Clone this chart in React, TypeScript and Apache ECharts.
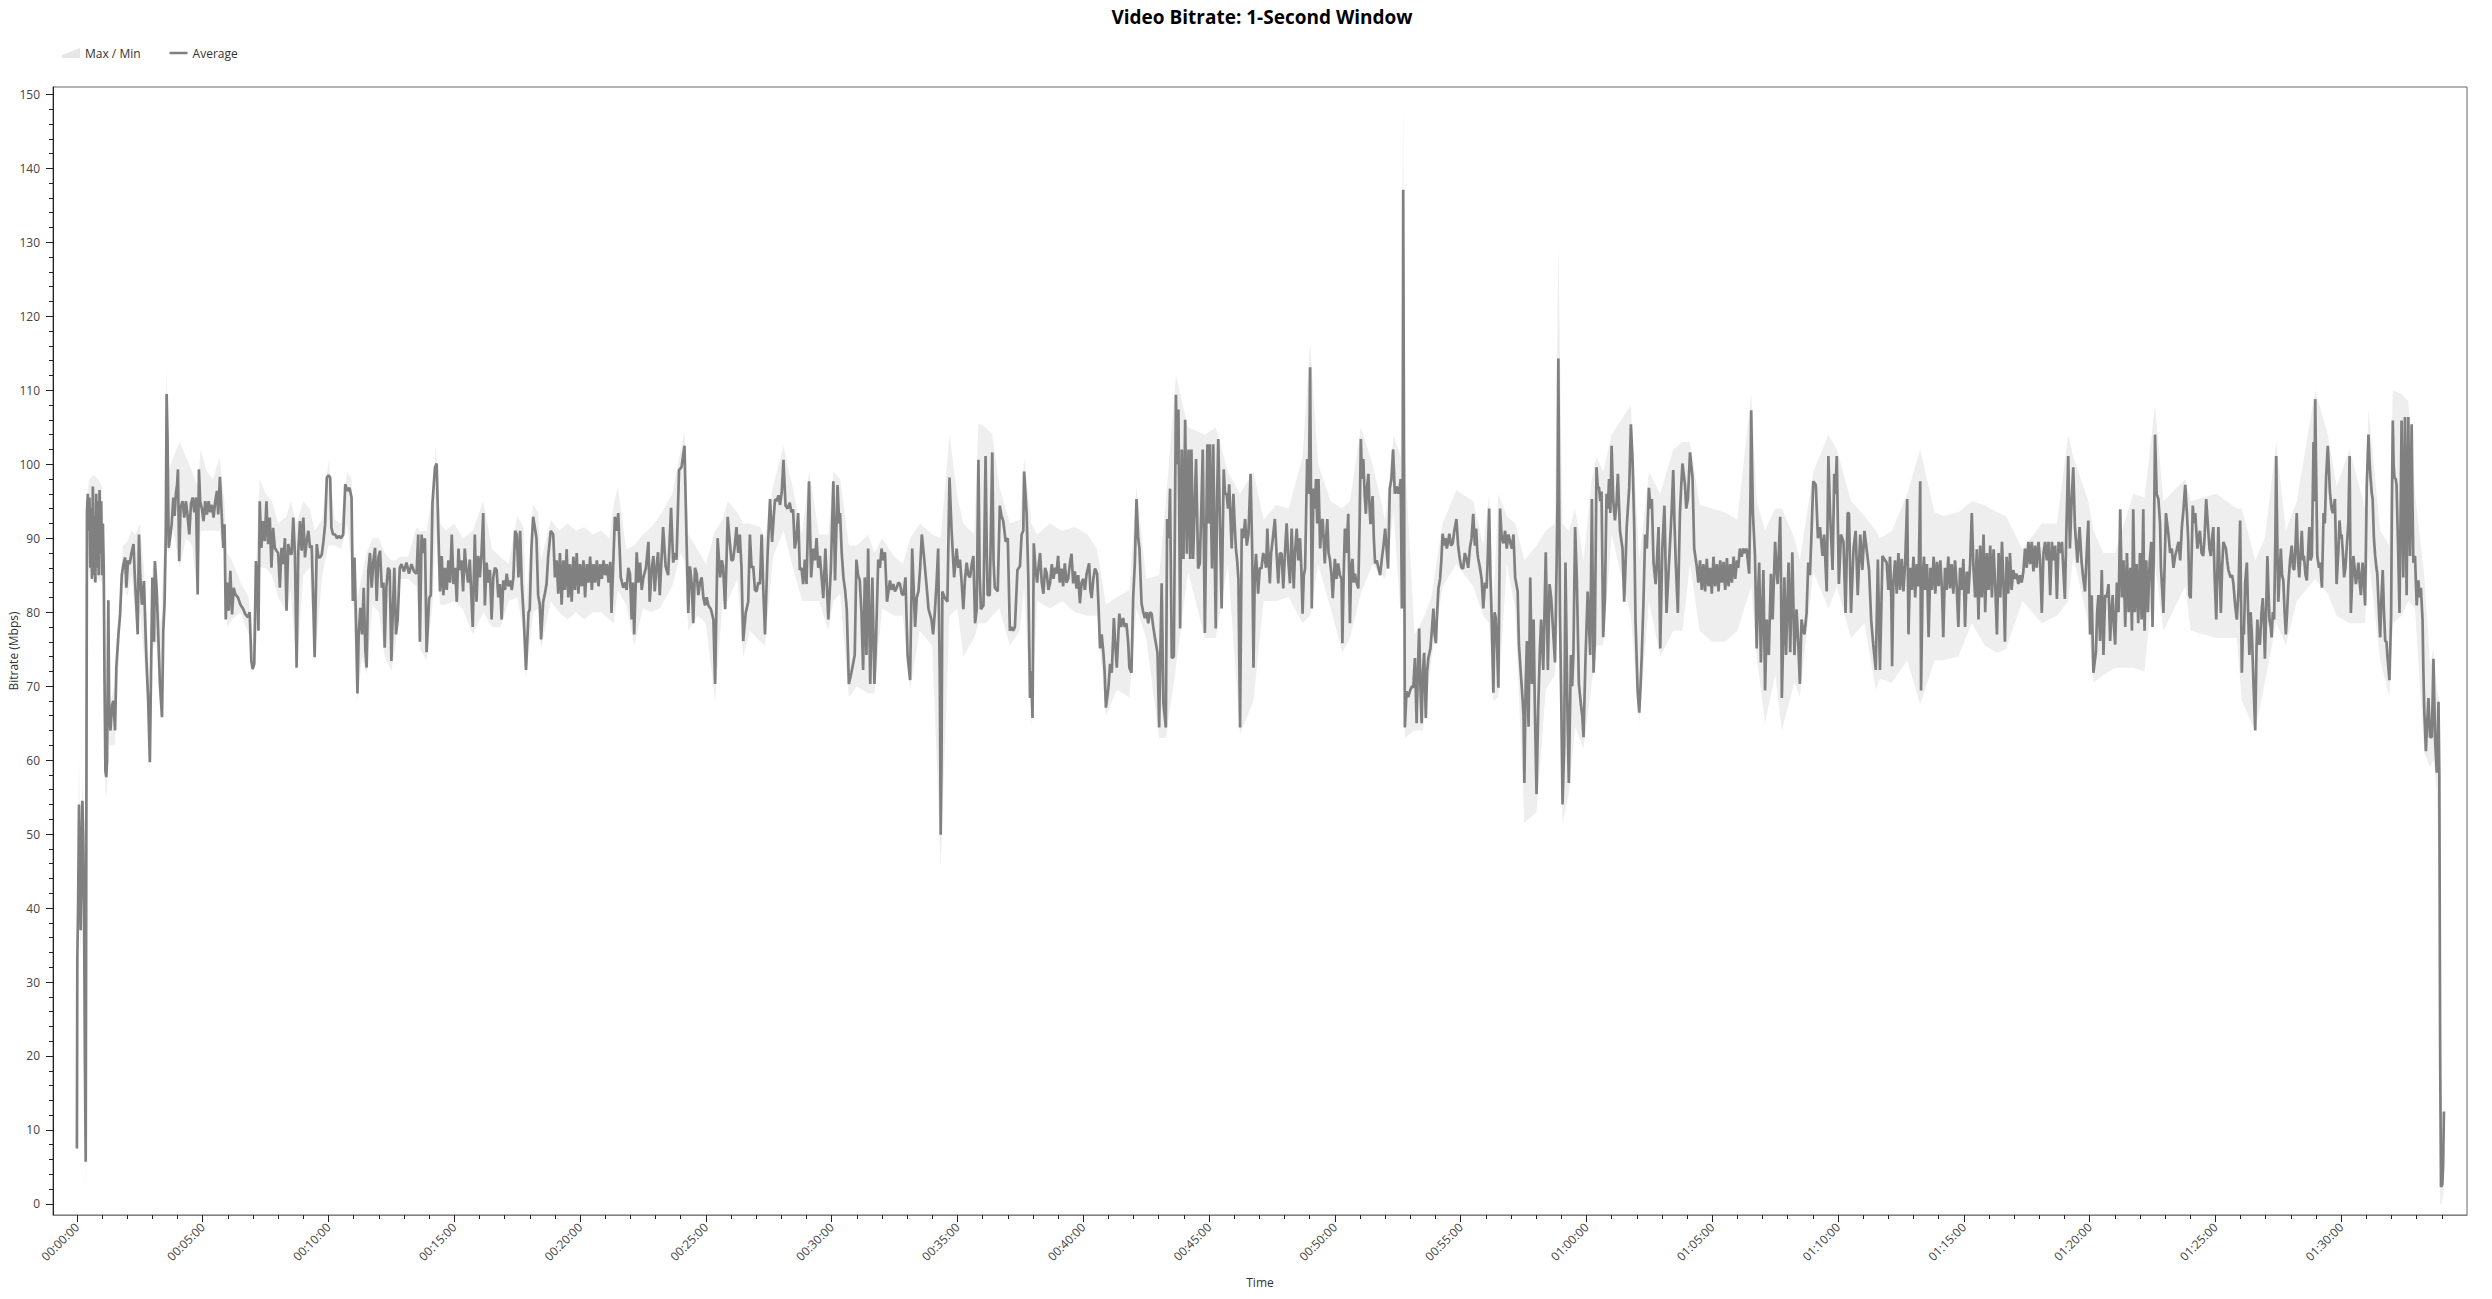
import React, { useEffect, useRef } from 'react';
import * as echarts from 'echarts';

// [seconds, Mbps]
const averageBitrate: number[][] = [
[0,7.5],[1,33],[2,37],[3,41],[5,54],[7,46],[9,37],[11,45],[13,54.5],[15,50],[17,40],[19,20],[21,5.7],[22,35],[24,93.5],
[26,96],[28,91],[30,95.5],[32,86],[34,94],[36,84.5],[38,97],[40,85],[42,93],[44,84],[46,96],[48,86],[50,95],[52,85],[54,96.5],[56,88],[58,95],[60,85],[62,92],[64,86],
[66,70],[68,58.5],[70,57.7],[72,60],[75,81.6],[77,66],[80,64],[84,67.5],[87,68],[91,64],[94,72.5],[99,77],[103,79.7],[107,85],[111,86.5],[115,87.4],[118,83.3],[122,87],[126,86.5],[130,88],[135,89.2],[138,85],[142,80.6],[145,77],[148,90.5],[151,85],[155,81],[160,84.2],[165,74.8],[170,68],[174,59.7],[178,77],[180,84.7],[184,76],[186,86.9],[190,83.3],[194,77],[198,70.3],[203,65.8],[206,77.5],[209,81],[212,90.5],[214,109.5],[216,104],[219,88.7],[222,90],[226,91.9],[230,95.5],[233,93],[236,96],[239,97.3],[241,99.3],[244,86.9],[247,94.1],[252,95],[256,92.8],[260,95],[264,93],[268,90.5],[272,94.6],[276,95.5],[280,93.5],[284,95.5],[288,82.4],[291,99.3],[294,95],[298,94],[302,92.3],[306,95],[310,93.2],[314,95],[318,93.5],[322,94.5],[326,92.8],[330,95],[334,96.4],[337,93.2],[341,98.3],[345,93.7],[349,88.7],[352,91.9],[355,79],[358,84],[362,80.2],[366,85.6],[370,79.7],[374,83.3],[378,82.4],[384,82],[390,81],[396,80.5],[402,79.7],[408,79.3],[412,80],[416,73.4],[419,72.3],[423,73],[427,86.9],[430,85.1],[433,77.5],[436,95],[440,88.7],[444,92.3],[448,89.6],[452,95],[456,89.2],[460,92.8],[464,86],[468,91.4],[472,88.7],[476,88.3],[480,88],[484,83.3],[488,88.7],[492,86.5],[496,90],[500,80.2],[504,89.2],[508,88],[512,87.8],[516,92.8],[520,87.8],[524,72.5],[528,88.3],[532,92.3],[536,88.3],[540,92.8],[544,87.4],[548,89.6],[552,91],[556,88.7],[560,89],[564,80.6],[567,73.9],[572,89.2],[576,87.4],[580,87.4],[584,87.8],[588,89.6],[592,91.9],[596,98.2],[600,98.5],[604,98.2],[607,91.4],[611,90.5],[616,90.5],[620,90],[625,90.3],[630,90],[635,90.5],[640,97.3],[645,96.4],[650,96.8],[655,95.5],[658,81.5],[662,87.4],[665,80.2],[669,69],[672,77],[676,80.6],[680,77],[684,83.3],[688,74.8],[691,72.5],[695,85.6],[699,88],[703,83.3],[707,86.9],[711,88.7],[715,81.5],[719,87.4],[723,88.3],[727,83.3],[731,84],[734,75.2],[738,83.3],[742,86],[746,85.6],[750,73.4],[753,79.3],[757,86],[761,77],[765,79],[770,86],
[774,86.5],[780,85.5],[786,86.7],[792,85.2],[798,86.5],[804,85.5],[810,85.2],[814,90.5],[818,76],[822,90.5],[826,88],[830,90],[834,74.6],[840,81.9],[844,82.3],[848,94.8],[854,99.6],[858,100.1],[862,91],[866,82.8],[870,87.6],[874,82.3],[878,86],[882,83],[886,87],[890,84],[894,90.5],[898,83.8],[902,86],[906,81.4],[910,88.6],[913,85.7],[917,87],[921,82.8],[925,88.6],[929,85.7],[933,84],[937,87.1],[944,78],[949,90.5],[953,81.4],[957,87.6],[961,84.7],[965,88],[969,93.4],[973,80.9],[977,86.7],[981,84],[985,85.7],[989,79],[993,84.7],[997,86],[1001,85.7],[1005,82],[1009,83.8],[1013,79],[1017,84.3],[1021,83],[1025,85.2],[1029,83.5],[1033,84.3],[1037,83],[1041,84.7],[1045,91],[1049,90.5],[1053,84.7],[1057,91],[1061,83.8],[1065,79.9],[1071,72.2],[1077,79.9],[1080,80.4],[1084,88.6],[1088,92.9],[1092,91.5],[1096,90],[1100,82.3],[1104,81],[1107,76.3],[1112,81.4],[1116,82.5],[1120,83.8],[1124,87.6],[1130,91],[1136,90.5],[1140,84.7],
[1144,87],[1148,82.5],[1152,88],[1156,81],[1160,87],[1164,83],[1168,88.5],[1172,82],[1176,86.5],[1180,81.4],[1184,87.5],[1188,83],[1192,88],[1196,82.5],[1200,86.5],[1204,83.5],[1208,87],[1212,82],[1216,86.5],[1220,84],[1224,87.5],[1228,83],[1232,86.5],[1236,84],[1240,87],[1244,83.5],[1248,86.5],[1252,84.5],[1256,87],[1260,85],[1264,86.5],[1268,84],[1272,86.8],[1275,79.9],[1280,88],[1283,92.9],[1288,91],[1291,93.4],[1297,84.7],[1303,83.3],[1308,84],[1311,83],[1315,86],[1319,85.2],[1323,79],[1326,84],[1329,77],[1335,88.1],[1339,84],[1343,86.7],[1347,83],[1351,84.7],[1357,86],[1363,89.5],[1366,81.4],[1371,86],[1375,87.6],[1378,82.8],[1382,86],[1386,88.1],[1390,82.3],[1398,91.5],[1404,86.2],[1410,85],[1417,94.1],[1422,86.7],[1426,88],[1430,87.1],[1436,99.2],[1442,99.6],[1449,102.5],[1454,89.5],[1458,79.9],[1462,86.2],[1466,84],[1470,78.5],[1474,86],[1478,85.2],[1482,82.3],[1486,84],[1490,84.7],[1494,82],[1498,80.9],[1502,82],[1506,80.9],[1512,80.4],[1518,79],[1522,70.3],[1528,90],[1534,84.7],[1538,87],[1541,86.2],[1546,80.4],[1552,92.9],[1557,89.5],[1561,87],[1565,87.1],[1569,89],[1573,91.5],[1577,88],[1581,90.5],[1585,86],[1589,76.1],[1595,79.9],[1601,81.4],[1605,90.5],[1609,86],[1613,86.2],[1617,83],[1621,82.8],[1625,84],[1629,83.8],[1633,90.5],[1637,83],[1641,77],[1647,87.6],[1653,95.3],[1658,89.5],[1662,93],[1665,95.3],[1669,95],[1673,95.8],[1677,94.5],[1681,96.3],[1685,100.6],[1690,94.4],[1695,94],[1700,94.8],[1704,93.5],[1708,93.9],[1712,88.6],[1716,90],[1720,93.4],[1724,85.7],[1728,86],[1732,83.8],[1736,87.1],[1740,83.8],[1746,97.7],[1751,84.7],[1756,88.6],[1760,87],[1764,90],[1768,86],[1772,87.6],[1776,84.7],[1780,81.9],[1785,88.6],[1789,83],[1792,79],[1798,85.7],[1804,97.7],[1808,84.3],[1814,97.2],[1818,92],[1820,93.4],[1824,88],[1828,84.7],[1832,83],[1836,80.4],[1841,70.3],[1847,71.8],[1851,73],[1855,74.2],[1859,87.1],[1863,85],[1867,84.3],[1871,80],[1875,72.2],[1879,84.7],[1883,74.2],[1887,88.6],[1892,70.3],[1897,84.7],[1902,70.3],[1906,76.5],[1911,87.1],[1915,86],[1919,88.6],[1923,87],[1927,88.1],[1932,81.4],[1939,84.3],[1943,83],[1947,83.8],[1951,82.8],[1955,83.3],[1959,84],[1963,83.8],[1967,82.5],[1971,82.3],[1976,84.7],[1981,74.2],[1987,70.8],[1992,88.6],[1999,78],[2003,82],[2007,82.8],[2011,86],[2015,90.5],[2020,87.6],[2026,83.8],[2031,80.4],[2038,79],[2042,77],[2046,80],[2050,83.8],[2054,88.6],[2058,70],[2060,49.9],[2062,60],[2064,82.8],[2070,81.9],[2076,81.4],[2081,98.2],[2086,91],[2092,84.7],[2098,88.6],[2102,86],[2106,87.1],[2110,84],[2114,80.4],[2118,84.5],[2122,86.7],[2126,85],[2130,84.7],[2134,86.5],[2138,87.6],[2142,78.5],[2146,80.4],[2150,100.6],[2153,85],[2156,80.4],[2162,80.9],[2167,101.1],[2170,88],[2172,82.3],[2177,82.3],[2183,101.6],[2186,87],[2189,83.3],[2196,82.8],[2201,94.4],[2205,93],[2209,92.4],[2215,89.5],[2220,90],[2225,77.5],[2229,78],[2233,77.5],[2237,78],[2243,85.7],[2249,86.2],[2253,90.5],[2257,91],[2259,99],[2265,93.3],[2269,84.5],[2273,68.4],[2276,72],[2279,65.7],[2282,89.3],[2286,86],
[2290,84],[2294,86.5],[2297,88],[2301,84],[2305,82.5],[2309,86],[2313,85.2],[2317,83],[2321,84],[2325,86.5],[2329,84.5],[2333,86],[2336,85.2],[2340,87.6],[2344,84],[2348,85.9],[2352,83.5],[2356,86.6],[2360,84],[2364,84.5],[2368,86.5],[2372,87.9],[2376,83.9],[2380,85.5],[2384,83.2],[2388,85],[2392,81.2],[2396,84],[2400,84.5],[2404,83],[2408,85.2],[2414,86.6],[2417,83],[2420,81.9],[2424,84.5],[2428,85.9],[2433,85.2],[2437,80],[2440,75.1],[2444,77],[2448,74.5],[2451,72],[2454,67.1],[2460,69.8],[2464,73],[2468,71.8],[2473,79.2],[2477,75],[2480,72.5],[2486,79.8],[2490,78],[2495,79.2],[2499,78],[2503,78.5],[2507,76],[2510,72.5],[2515,71.8],[2519,81.9],[2523,86.6],[2527,95.3],[2531,90],[2534,88.6],[2539,81.2],[2543,80],[2547,79.2],[2551,80],[2555,78.5],[2559,80],[2563,79.8],[2567,78],[2571,76.5],[2577,74.5],[2581,64.4],[2584,75],[2587,83.9],[2591,67.7],[2597,64.4],[2600,92.6],[2604,90],[2607,96.7],[2611,73.8],[2616,74],[2619,95],[2621,109.4],[2624,100],[2627,107.4],[2631,77.8],[2635,102],[2639,87.2],[2643,106],[2647,87.9],[2651,102],[2655,87.2],[2658,102],[2662,87.2],[2666,95],[2669,100.7],[2674,85.9],[2678,86.6],[2682,95],[2685,102],[2690,77.2],[2693,90],[2696,102.7],[2699,92],[2702,102.7],[2707,85.9],[2710,102.7],[2713,90],[2716,77.8],[2719,95],[2722,103.4],[2726,92],[2730,80.5],[2735,99.3],[2738,96],[2742,96],[2745,94],[2748,97.3],[2751,93],[2754,88.6],[2758,96],[2761,92],[2764,88.6],[2767,87],[2770,84.5],[2774,64.4],[2778,91.3],[2782,90],[2786,92.6],[2790,89],[2794,90.6],[2799,98.7],[2803,88],[2806,72.5],[2809,85],[2812,87.9],[2817,82.5],[2821,86],[2825,85.9],[2829,88],[2833,87.2],[2836,86],[2839,91.3],[2842,87],[2845,83.9],[2848,88],[2852,89.9],[2857,92.6],[2861,88],[2865,83.9],[2869,88],[2873,87.9],[2877,83.2],[2881,88],[2885,92],[2889,87],[2893,83.9],[2897,91.3],[2902,83.2],[2905,88],[2909,91.3],[2913,87],[2917,90],[2920,86],[2923,79.8],[2926,85],[2929,85.9],[2934,100.7],[2938,96],[2941,113.1],[2945,80.5],[2949,96.7],[2952,94],[2955,98],[2958,92],[2961,98],[2965,88.6],[2968,92],[2971,92.6],[2976,86.6],[2979,90],[2982,92.6],[2985,88],[2988,87.2],[2992,85],[2995,81.9],[2998,85],[3000,87.2],[3004,84.5],[3008,86.6],[3012,85],[3016,84.5],[3018,75.8],[3021,85],[3024,91.3],[3028,88],[3032,93.3],[3036,78.5],[3039,86],[3042,87.2],[3045,84],[3048,85.2],[3052,84],[3056,83.2],[3059,92],[3062,103.4],[3065,98],[3068,100.7],[3071,96],[3074,93.3],[3077,97],[3080,98.7],[3083,94],[3085,91.9],[3088,94],[3090,95.7],[3093,90],[3096,86.6],[3100,87],[3104,85.9],[3108,85],[3112,87.2],[3116,89],[3120,91.3],[3124,88],[3127,85.9],[3131,96.7],[3135,98],[3139,102],[3143,96],[3147,97],[3151,96],[3155,97],[3157,98],[3160,80.5],[3162,95],[3163,137.1],[3165,100],[3167,64.4],[3171,69.3],[3175,68.5],[3180,69.5],[3184,70],[3187,69.8],[3191,73.8],[3195,65],[3198,72],[3201,77.8],[3204,70],[3207,65],[3210,72],[3213,74.5],[3217,65.7],[3220,72],[3223,73.8],[3228,75.1],[3232,78],[3235,80.5],[3238,77],[3241,75.8],[3244,80],[3247,83.2],[3251,84.5],[3254,87],[3257,90.6],[3261,89],[3264,90],[3267,88.6],[3270,89.5],[3273,90.6],[3277,89],[3281,89.3],[3285,91],[3290,92.6],[3294,89],[3298,87.2],[3302,86],[3306,85.9],[3310,88],[3314,87.2],[3318,86],[3322,88.6],[3326,90],[3330,93.3],[3334,89],[3337,91.3],[3340,88],[3342,87.2],[3346,86],[3350,84.5],[3354,80.5],[3358,84],[3362,83.2],[3365,88],[3368,94],[3371,85],[3374,79.2],[3378,69.1],[3381,80],[3384,79.2],[3387,75],[3390,69.8],[3394,94],[3398,90],[3402,89.3],[3406,91],[3410,88.6],[3414,90.5],[3418,89.5],[3422,88.6],[3426,90.5],[3430,84.7],[3436,82.8],[3439,75.6],[3444,71.3],[3448,68],[3450,66],[3452,56.9],[3455,70],[3458,76.1],[3462,64.5],[3466,84.7],[3470,70.3],[3474,79],[3477,66.9],[3481,55.4],[3485,66.9],[3489,75],[3492,79],[3497,72.2],[3500,80],[3503,88.1],[3508,72.2],[3512,83.8],[3516,81.9],[3521,77],[3525,73.2],[3529,87.1],[3531,95],[3533,114.3],[3535,95],[3537,79.4],[3540,68],[3543,54],[3547,62.1],[3550,86.7],[3555,65.5],[3558,56.9],[3563,74.2],[3566,70],[3569,74.6],[3573,91.5],[3577,84.7],[3582,70.3],[3587,67.4],[3590,66],[3593,63.1],[3598,74.2],[3603,82.8],[3609,74.2],[3613,95.3],[3617,71.8],[3620,76.1],[3624,99.6],[3627,97],[3630,96.8],[3633,95],[3636,96.3],[3640,76.6],[3644,81.9],[3648,96],[3651,94],[3654,98],[3657,93.4],[3660,102.5],[3664,95],[3668,92.4],[3672,95],[3675,98.7],[3680,91],[3686,88.6],[3690,81.4],[3693,86],[3696,91.5],[3702,96.8],[3706,105.4],[3710,100.6],[3714,91.5],[3717,79],[3722,69.4],[3726,66.4],[3729,70],[3732,74.2],[3736,81.4],[3740,90.5],[3744,88.6],[3749,96.8],[3753,94],[3756,95.3],[3760,86.7],[3765,83.8],[3769,88],[3772,91.5],[3776,75.1],[3781,88.6],[3786,94.4],[3791,79.9],[3797,86.7],[3803,93.4],[3807,99.2],[3810,92],[3813,86.7],[3818,79.9],[3823,93.4],[3826,97],[3829,100.1],[3835,97.2],[3838,94],[3842,95.3],[3847,101.6],[3853,98.2],[3857,88.6],[3863,86.2],
[3867,84],[3871,87],[3875,83],[3879,86.5],[3883,82.8],[3887,87.2],[3891,83.5],[3895,86],[3899,82.5],[3903,87.5],[3907,83.5],[3911,86.5],[3915,82.8],[3919,87],[3923,84],[3927,86.8],[3931,83],[3935,87.3],[3939,83.5],[3943,86.5],[3947,84],[3951,87.5],[3955,84.5],[3959,87],[3962,86],[3966,88.6],[3970,87.5],[3974,88.6],[3978,88],[3982,88.6],[3988,85.2],[3991,95],[3993,107.3],[3995,100],[3997,93.4],[4002,87.6],[4006,75.1],[4009,82],[4012,86.7],[4016,73.2],[4019,80],[4022,85.7],[4026,69.4],[4030,79],[4035,74.2],[4040,85.2],[4044,79],[4050,89.5],[4053,86],[4056,83.8],[4062,92.9],[4064,85],[4066,68.4],[4069,76],[4072,84.7],[4076,74.2],[4082,86.7],[4086,74.6],[4091,88.1],[4096,74.2],[4101,80.4],[4105,76.1],[4109,70.3],[4113,79],[4117,77.5],[4120,77],[4125,79.9],[4129,86.7],[4133,85],[4136,89.5],[4141,97.7],[4147,97.2],[4152,90],[4157,91.5],[4163,87.6],[4167,90.5],[4173,82.8],[4177,101.1],[4181,93.4],[4187,85.7],[4191,98.7],[4194,96],[4197,101.1],[4202,83.8],[4207,90.5],[4213,89.5],[4218,79.9],[4223,93.4],[4226,93.4],[4231,79.9],[4237,88.6],[4242,91],[4247,82.3],[4253,90.5],[4258,85.7],[4263,91],[4268,88.6],[4274,85.7],[4279,79],[4284,75.6],[4290,72.2],[4295,87.1],[4300,72.2],[4306,87.6],[4311,87.1],[4316,86.7],
[4320,83],[4324,87.5],[4327,82],[4329,72.7],[4332,84],[4336,87],[4340,82.5],[4344,88],[4348,83],[4352,87.2],[4356,82.8],[4360,86.5],[4365,95.3],[4368,77],[4372,86],[4376,83],[4380,87.5],[4384,82],[4388,86.5],[4392,83.5],[4396,97.7],[4398,69.4],[4402,85],[4405,87.5],[4408,83],[4412,86.5],[4416,76.6],[4420,86],[4424,83],[4428,87.5],[4432,82.5],[4436,86.8],[4440,83.5],[4444,87],[4448,82.8],[4451,76.6],[4455,86],[4459,83],[4463,87.5],[4467,83.2],[4471,86.5],[4475,82.5],[4479,87],[4483,83.5],[4487,78],[4491,86],[4495,83],[4499,87.2],[4503,78],[4507,85.5],[4511,82.5],[4515,86.5],[4519,93.4],[4523,86],[4527,82],[4531,88.5],[4535,79],[4539,89],[4543,82],[4547,90.5],[4551,80],[4555,88],[4559,83],[4563,89],[4567,82],[4571,88.5],[4575,83.5],[4579,77],[4583,88],[4587,82],[4591,89.5],[4595,83],[4598,76],[4602,87.5],[4606,82.5],[4610,88],[4614,83],[4618,85.7],[4622,84.5],[4626,85.2],[4630,83.8],[4634,85],[4638,84],[4642,85.5],[4646,88.6],[4650,86],[4654,89.5],[4658,86.5],[4662,89.5],[4666,85.5],[4670,89],[4674,86],[4678,89.5],[4682,87],[4686,79.9],[4690,88],[4694,89.5],[4698,87],[4702,89.5],[4706,82.3],[4710,89.5],[4714,87],[4718,89],[4722,81.8],[4726,89.5],[4730,88],[4734,89.5],[4738,85],[4741,81.8],[4745,92],[4749,101.1],[4753,88.6],[4757,95],[4761,99.6],[4765,91.5],[4771,86.7],[4776,91.5],[4781,86.7],[4785,84.5],[4789,82.8],[4793,88],[4797,92.4],[4801,77],[4805,82.3],[4809,71.8],[4815,74.6],[4818,80],[4821,82.3],[4825,76.1],[4829,85.7],[4833,74.2],[4837,82.3],[4841,82],[4845,83.8],[4849,76.1],[4852,80],[4855,82.3],[4858,78],[4861,75.6],[4865,84],[4869,80],[4873,93.9],[4877,82],[4881,87],[4885,78],[4889,88],[4893,80],[4897,86],[4901,77.5],[4904,93.9],[4908,80],[4912,86.5],[4916,78.5],[4920,88],[4924,79],[4928,93.9],[4931,77.5],[4935,87],[4939,80],[4943,86.5],[4947,89.5],[4950,78],[4953,88],[4956,104],[4960,96],[4964,95.3],[4968,92],[4970,86.2],[4976,79.9],[4982,93.4],[4988,90.5],[4992,88],[4996,88.6],[5000,86],[5004,87.6],[5008,88.5],[5012,89.5],[5016,87],[5020,91.5],[5024,94],[5028,97.2],[5032,93.4],[5035,90],[5038,82.3],[5041,81.9],[5046,94.4],[5049,92],[5052,93.4],[5057,88.6],[5060,90],[5063,91],[5067,88],[5071,87.6],[5074,90],[5078,95.3],[5083,91],[5086,88.5],[5089,87.6],[5092,90],[5095,91.5],[5098,85],[5102,79],[5107,91.5],[5110,86],[5113,79.9],[5116,86],[5119,89.5],[5125,88.6],[5128,87],[5131,85.7],[5136,84.7],[5140,85],[5143,83.8],[5147,81],[5151,79],[5155,82.8],[5159,92.4],[5163,71.8],[5166,78],[5168,77],[5171,84],[5175,86.7],[5178,80],[5181,74.2],[5184,80],[5187,77],[5191,70],[5195,64],[5198,75],[5200,79],[5203,76],[5206,75.6],[5210,80],[5213,81.9],[5216,78],[5218,73.7],[5221,80],[5224,87.6],[5227,82],[5229,79],[5232,78],[5234,76.6],[5237,80],[5240,79],[5243,90],[5245,101.1],[5248,88],[5250,81.4],[5253,85],[5256,88.6],[5259,85],[5262,84.3],[5265,80],[5268,77],[5271,80],[5274,83.8],[5278,87],[5282,89],[5285,86],[5288,85.7],[5291,89],[5294,93.4],[5297,87],[5300,84.7],[5303,88],[5306,91],[5309,87],[5311,87.6],[5315,85],[5318,84.3],[5321,88],[5324,91.5],[5327,87],[5330,87.6],[5334,103],[5336,95],[5338,108.8],[5340,100],[5343,87.6],[5347,86],[5350,86.7],[5354,83.3],[5358,93.4],[5361,92],[5364,98.2],[5368,102.5],[5371,99],[5373,96.3],[5377,94],[5380,93.4],[5385,95.3],[5389,83.8],[5393,88],[5396,92.4],[5399,90],[5401,90.5],[5404,88],[5407,84.7],[5410,86],[5413,88.6],[5417,92],[5420,101.1],[5423,79.9],[5426,84],[5429,87.6],[5432,86],[5435,83.8],[5438,85],[5441,86.7],[5444,84],[5447,82.3],[5449,85],[5451,86.7],[5454,84],[5457,80.9],[5461,97.2],[5465,104],[5468,100],[5470,98.2],[5473,96],[5475,95.3],[5478,90],[5481,87.6],[5484,86],[5486,85.2],[5490,80],[5493,76.6],[5496,82],[5499,85.7],[5502,80],[5505,76.1],[5508,76],[5510,74.2],[5515,70.8],[5519,79.4],[5521,95],[5523,105.9],[5525,100],[5527,98.2],[5530,98],[5532,97.2],[5536,88],[5539,79.9],[5542,95],[5544,105.9],[5546,95],[5548,84.7],[5550,95],[5552,106.4],[5554,95],[5556,82.3],[5558,95],[5560,106.4],[5562,96],[5564,87.6],[5566,96],[5568,105.4],[5570,95],[5572,86.7],[5576,87.6],[5580,80.9],[5584,84.3],[5587,82],[5590,83.3],[5594,79],[5596,72],[5598,66.9],[5602,61.2],[5605,65],[5608,68.4],[5612,63.1],[5616,63.1],[5618,68],[5620,73.7],[5622,68],[5624,62.6],[5628,58.3],[5632,67.9],[5634,58],[5636,20],[5638,2.3],[5641,2.6],[5643,5],[5645,12.5]
];

// [seconds, min Mbps, max Mbps]
const maxMinBand: number[][] = [
[0,6.5,9],[2,30,45],[5,44,60.5],[9,33,45],[13,45,58],[17,30,50],[20,0,10],[22,30,45],[24,88,96],
[30,85,98],[40,84,98.5],[50,84.5,98],[60,84,97],[64,82,90],[68,55,61],[72,56,63],[75,62,83],[80,62,68],[90,62,70],[100,74,80],[110,84,89],[120,82,89.5],[130,85,91],[140,79,90.5],[150,80,92],[160,74,86],[170,66,75],[174,58,63],[180,75,86],[190,76,86],[200,65,78],[210,82,93],[214,90,113.5],[218,88,99],[230,91,101],[245,86,103],[260,90,101],[275,89,99],[288,82,97],[295,91,102],[310,91,99],[325,91,98],[340,91,101],[352,88,95],[358,78,88],[370,79,87],[390,80,84],[410,77,82],[420,71.5,75],[430,77,90],[436,86,98],[450,86,96],[465,85,95],[480,82,92],[500,80,93],[510,83,95],[524,72,92],[540,85,95],[555,86,94],[567,73,91],[585,85,92.5],[600,89,100.5],[615,89,92.5],[630,88.5,92],[645,92,99],[655,86,98],[660,80,89],[669,68,82],[680,74,85],[691,71.5,88],[705,81,90],[720,80,90],[734,74,88],[750,72,87],[760,75.5,87],[770,84.5,87.5],[790,84.5,87.5],[810,83.5,91.5],[818,75,91],[834,73.5,91],[848,81,96],[856,91,102.5],[866,81,92],[880,81,91],[900,81.5,92],[920,80.5,90],[944,77,91],[969,80,95],[990,78,88.5],[1010,78,87.5],[1030,81.5,86.5],[1050,82,93],[1065,77.5,91.5],[1071,71,81],[1088,80,94.5],[1100,80.5,93.5],[1107,75,87],[1130,81.5,92.5],[1150,80,91],[1170,79,92],[1190,80,91],[1210,79,91.5],[1230,80,90.5],[1250,80,91],[1270,79,90],[1280,78.5,94.5],[1290,83,97],[1310,81,88.5],[1329,75.5,89],[1350,80.5,90.5],[1370,80,91.5],[1390,80.5,93],[1420,83.5,96],[1440,88,102],[1449,87,104.5],[1458,77.5,90.5],[1480,79.5,88.5],[1500,78.5,86.5],[1522,68,91],[1540,81.5,92.5],[1552,81.5,95],[1575,84.5,93.5],[1589,74,92],[1605,77.5,92],[1630,76,91.5],[1641,75.5,90],[1660,87.5,97],[1685,91,102.5],[1710,85.5,96],[1730,81.5,90.5],[1746,81.5,99],[1770,81.5,90.5],[1792,77.5,90.5],[1804,81.5,99],[1820,82.5,98],[1841,68.5,89],[1860,70,89],[1887,69,90.5],[1902,69,88],[1920,80.5,90],[1950,79.5,87.5],[1970,79.5,86.5],[1987,69.5,90],[2010,77.5,92],[2040,75.5,90.5],[2060,45.5,90],[2081,79.5,104],[2100,80.5,95.5],[2114,74,92],[2140,76.5,90.5],[2150,78.5,105.5],[2167,78.5,105],[2183,79.5,104],[2200,80.5,97],[2225,75.5,92],[2249,77.5,92.5],[2259,83.5,101],[2276,64.5,92],[2290,81.5,90.5],[2320,80.5,92],[2350,81.5,91],[2380,80,91.5],[2410,79.5,90.5],[2433,79.5,88.5],[2454,66,81],[2480,69.5,82],[2510,68.5,83],[2527,80.5,97],[2550,76.5,84.5],[2581,63,85],[2597,63,95],[2621,72.5,112],[2650,85.5,105],[2690,76.5,104],[2716,76.5,105],[2745,86.5,99],[2774,63.5,96],[2806,68,99],[2830,81.5,92.5],[2860,81.5,94.5],[2890,82,94],[2923,78.5,101],[2941,79.5,116.5],[2960,86.5,100],[2990,80.5,95],[3018,74.5,94],[3036,76.5,95],[3062,82.5,105],[3090,86.5,100],[3120,84.5,92.5],[3140,93.5,104],[3157,79.5,101],[3163,91,149],[3167,63,101],[3190,64,77],[3210,64,79],[3230,73.5,82],[3257,83.5,92],[3290,86.5,96.5],[3330,83.5,95],[3354,79.5,89],[3368,78.5,96],[3378,68,81],[3390,68.5,96],[3410,86.5,93],[3430,80.5,92],[3452,51.5,87],[3481,53,89],[3503,69.5,91],[3525,71.5,92],[3533,79.5,129.5],[3543,51.5,92],[3558,55.5,91],[3573,64.5,94],[3593,61.5,87],[3613,70.5,98],[3624,75.5,101],[3640,75.5,99],[3660,90.5,104],[3706,79.5,108],[3726,65,87],[3749,81.5,99],[3776,74,96],[3807,77.5,102],[3829,77.5,103],[3847,86.5,103],[3870,77.5,94.5],[3900,76,94],[3930,76,93.5],[3960,77.5,92.5],[3993,83.5,109.5],[4006,74,95],[4026,65,91],[4050,71.5,94],[4066,64,94],[4096,70.5,90],[4109,68.5,87],[4141,85.5,99],[4177,80.5,104],[4197,83.5,102],[4231,76.5,95],[4263,78.5,93],[4290,69.5,91],[4300,71,90],[4329,70.5,91],[4365,73.5,96],[4396,67.5,102],[4430,73.5,93.5],[4451,73.5,93],[4487,74,93.5],[4519,78.5,95],[4550,75.5,94.5],[4579,74.5,93.5],[4600,75,93],[4640,81.5,88.5],[4686,78.5,92],[4722,79.5,92],[4749,81.5,104],[4761,87.5,101],[4797,78.5,95],[4809,70.5,91],[4833,71.5,88],[4861,72.5,88],[4904,72.5,96],[4931,72,95.5],[4956,86.5,108],[4976,77.5,95],[5028,83.5,98],[5041,77.5,95],[5102,76.5,96],[5151,76.5,94],[5163,68,94],[5195,64,87],[5218,70.5,90],[5245,78.5,103],[5268,75.5,91],[5294,81.5,95],[5338,84.5,110],[5368,82.5,104],[5389,79.5,97],[5420,78.5,102],[5457,78.5,94],[5465,87.5,107.5],[5493,73.5,91],[5515,68.5,89],[5523,78.5,110],[5544,79.5,109.5],[5560,81.5,108.5],[5576,80.5,96],[5598,61,85],[5612,59,73],[5620,60,75],[5628,56,70],[5634,40,68],[5636,0,30],[5640,0,6],[5645,2,13]
];

const timeTickSeconds = [0, 300, 600, 900, 1200, 1500, 1800, 2100, 2400, 2700, 3000, 3300, 3600, 3900, 4200, 4500, 4800, 5100, 5400];
const bitrateTicks = [0, 10, 20, 30, 40, 50, 60, 70, 80, 90, 100, 110, 120, 130, 140, 150];

const FONT = '"Segoe UI", "Open Sans", "Noto Sans", sans-serif';

function formatHMS(v: number): string {
  const s = Math.round(v);
  const h = Math.floor(s / 3600);
  const m = Math.floor((s % 3600) / 60);
  const sec = s % 60;
  return [h, m, sec].map((x) => String(x).padStart(2, '0')).join(':');
}

export default function App() {
  const ref = useRef<HTMLDivElement>(null);
  useEffect(() => {
    if (!ref.current) return;
    const chart = echarts.init(ref.current, null, { renderer: 'svg' });
    const minorX: number[] = [];
    for (let s = 0; s <= 5640; s += 60) minorX.push(s);
    const minorY: number[] = [];
    for (let v = 0; v <= 150; v += 2) minorY.push(v);

    const xMin = -57, xMax = 5700, yMin = -1.5, yMax = 151;

    chart.setOption({
      animation: false,
      backgroundColor: '#ffffff',
      textStyle: { fontFamily: FONT },
      title: {
        text: 'Video Bitrate: 1-Second Window',
        left: 1257,
        top: 2,
        textAlign: 'center',
        textStyle: { fontSize: 19, fontWeight: 'bold', color: '#000', fontFamily: FONT },
      },
      legend: {
        left: 57,
        top: 42,
        itemWidth: 18,
        itemHeight: 10,
        itemGap: 29,
        textStyle: { fontSize: 12, color: '#333', fontFamily: FONT },
        data: [
          { name: 'Max / Min', icon: 'path://M0,7 L18,0 L18,10 L0,10 Z' },
          { name: 'Average', icon: 'path://M0,0 L18,0 L18,2.5 L0,2.5 Z' },
        ],
      },
      graphic: [
        {
          type: 'text',
          x: 13,
          y: 651,
          rotation: Math.PI / 2,
          silent: true,
          style: { text: 'Bitrate (Mbps)', align: 'center', verticalAlign: 'middle', fontSize: 12, fill: '#333', fontFamily: FONT },
        },
      ],
      grid: {
        left: 53, right: 25, top: 87, bottom: 84,
        show: true, borderColor: '#666', borderWidth: 1,
        containLabel: false, outerBoundsMode: 'none',
      },
      xAxis: [
        {
          type: 'value', min: xMin, max: xMax, position: 'bottom',
          name: 'Time', nameLocation: 'middle', nameGap: 61,
          nameTextStyle: { fontSize: 12, color: '#333', fontFamily: FONT },
          axisLine: { show: true, onZero: false, lineStyle: { color: '#808080', width: 1 } },
          axisTick: { show: true, length: 7, customValues: timeTickSeconds, lineStyle: { color: '#222' } },
          axisLabel: { customValues: timeTickSeconds, rotate: 45, margin: 10, fontSize: 12, color: '#444', fontFamily: FONT, formatter: formatHMS },
          splitLine: { show: false },
        },
        {
          type: 'value', min: xMin, max: xMax, position: 'bottom',
          axisLine: { show: false, onZero: false },
          axisTick: { show: true, length: 4, customValues: minorX, lineStyle: { color: '#222' } },
          axisLabel: { show: false },
          splitLine: { show: false },
        },
      ],
      yAxis: [
        {
          type: 'value', min: yMin, max: yMax, position: 'left',
          axisLine: { show: true, onZero: false, lineStyle: { color: '#222', width: 1 } },
          axisTick: { show: true, length: 7, customValues: bitrateTicks, lineStyle: { color: '#222' } },
          axisLabel: { customValues: bitrateTicks, margin: 13, fontSize: 12, color: '#444', fontFamily: FONT },
          splitLine: { show: false },
        },
        {
          type: 'value', min: yMin, max: yMax, position: 'left',
          axisLine: { show: false, onZero: false },
          axisTick: { show: true, length: 4, customValues: minorY, lineStyle: { color: '#222' } },
          axisLabel: { show: false },
          splitLine: { show: false },
        },
      ],
      series: [
        {
          type: 'custom',
          name: 'Max / Min',
          xAxisIndex: 0,
          yAxisIndex: 0,
          data: maxMinBand,
          encode: { x: 0, y: [1, 2] },
          clip: true,
          silent: true,
          z: 1,
          itemStyle: { color: '#e6e6e6' },
          renderItem: (params: any, api: any) => {
            if (params.dataIndex !== 0) return null;
            const pts: number[][] = [];
            for (let i = 0; i < maxMinBand.length; i++) pts.push(api.coord([maxMinBand[i][0], maxMinBand[i][2]]));
            for (let i = maxMinBand.length - 1; i >= 0; i--) pts.push(api.coord([maxMinBand[i][0], maxMinBand[i][1]]));
            return { type: 'polygon', shape: { points: pts }, style: { fill: '#eeeeee', stroke: null } };
          },
        },
        {
          type: 'line',
          name: 'Average',
          xAxisIndex: 0,
          yAxisIndex: 0,
          data: averageBitrate,
          showSymbol: false,
          symbol: 'none',
          clip: true,
          z: 2,
          itemStyle: { color: '#808080' },
          lineStyle: { width: 2.7, color: '#808080', join: 'bevel' },
        },
      ],
    });
    return () => chart.dispose();
  }, []);
  return (
    <div
      ref={ref}
      style={{ position: 'fixed', left: 0, top: 0, width: '2492px', height: '1299px', background: '#fff' }}
    />
  );
}
